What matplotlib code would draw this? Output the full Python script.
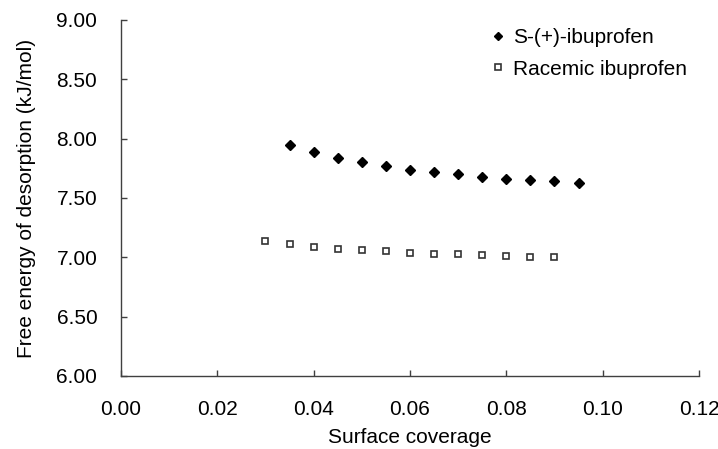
import matplotlib
matplotlib.use('Agg')
import matplotlib.pyplot as plt

# Free energy of desorption vs surface coverage
s_cov = [0.035, 0.040, 0.045, 0.050, 0.055, 0.060, 0.065, 0.070, 0.075, 0.080, 0.085, 0.090, 0.095]
s_energy = [7.95, 7.89, 7.84, 7.80, 7.77, 7.74, 7.72, 7.70, 7.68, 7.66, 7.65, 7.64, 7.63]

rac_cov = [0.030, 0.035, 0.040, 0.045, 0.050, 0.055, 0.060, 0.065, 0.070, 0.075, 0.080, 0.085, 0.090]
rac_energy = [7.14, 7.11, 7.09, 7.07, 7.06, 7.05, 7.04, 7.03, 7.03, 7.02, 7.01, 7.00, 7.00]

x_ticks = [0.00, 0.02, 0.04, 0.06, 0.08, 0.10, 0.12]
y_ticks = [6.00, 6.50, 7.00, 7.50, 8.00, 8.50, 9.00]

plt.rcParams['font.family'] = ['Liberation Sans', 'DejaVu Sans']
plt.rcParams['font.size'] = 15

fig = plt.figure(figsize=(7.18, 4.49), dpi=100)
ax = fig.add_axes([0.1685, 0.1626, 0.8050, 0.7929])

ax.plot(s_cov, s_energy, linestyle='none', marker='D', ms=5.5, color='black',
        label='S-(+)-ibuprofen')
ax.plot(rac_cov, rac_energy, linestyle='none', marker='s', ms=5, mfc='white',
        mec='#333333', mew=1.2, label='Racemic ibuprofen')

ax.set_xlim(0, 0.12)
ax.set_ylim(6, 9)
ax.set_xticks(x_ticks)
ax.set_yticks(y_ticks)
ax.set_xticklabels([f'{v:.2f}' for v in x_ticks])
ax.set_yticklabels([f'{v:.2f}' for v in y_ticks])

for side in ['top', 'right']:
    ax.spines[side].set_visible(False)
for side in ['left', 'bottom']:
    ax.spines[side].set_color('#404040')
    ax.spines[side].set_linewidth(1.0)

ax.tick_params(axis='x', direction='in', length=4.5, width=1, color='#404040', pad=17)
ax.tick_params(axis='y', direction='in', length=4.5, width=1, color='#404040', pad=17)

ax.set_xlabel('Surface coverage', labelpad=7)
ax.set_ylabel('Free energy of desorption (kJ/mol)', labelpad=15)

ax.legend(loc='upper right', bbox_to_anchor=(1.012, 1.03), frameon=False,
          handlelength=0.5, handletextpad=0.5, markerscale=0.75, labelspacing=0.6)

fig.savefig('out.png', dpi=100)
